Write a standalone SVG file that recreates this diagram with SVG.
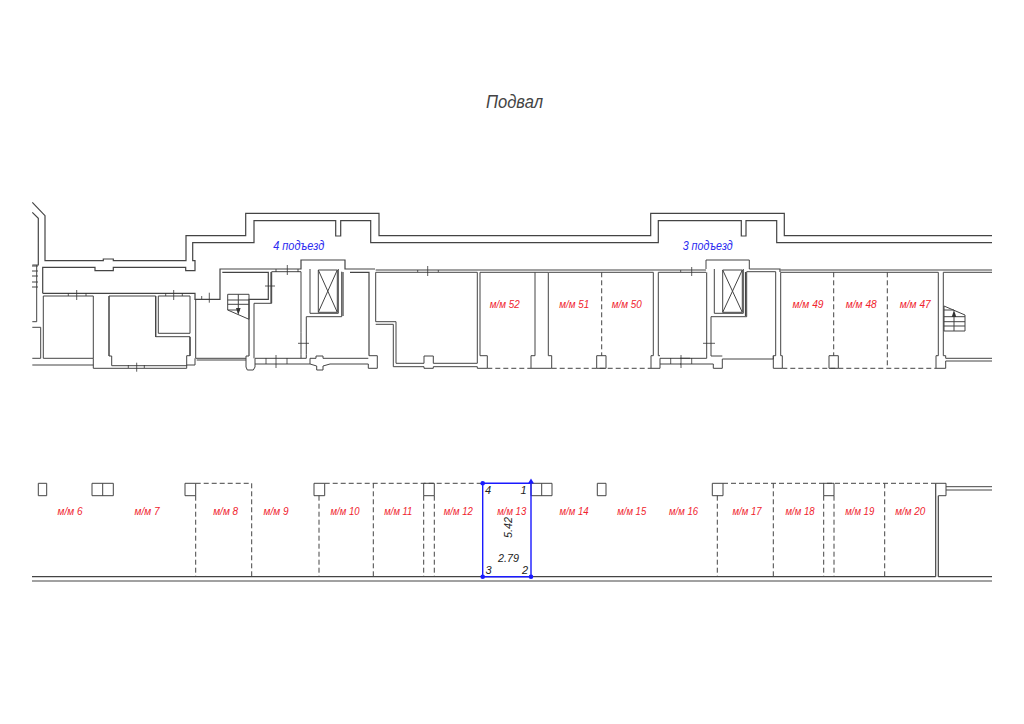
<svg xmlns="http://www.w3.org/2000/svg" width="1024" height="724" viewBox="0 0 1024 724">
<style>
.w{fill:none;stroke:#444;stroke-width:1}
.h{fill:none;stroke:#444;stroke-width:1.2}
.t{fill:none;stroke:#333;stroke-width:.8}
.d{fill:none;stroke:#444;stroke-width:1;stroke-dasharray:5 3}
.r{font:italic 11px "Liberation Sans",sans-serif;fill:#f0232d;text-anchor:middle}
.b{font:italic 12px "Liberation Sans",sans-serif;fill:#2a2af0;text-anchor:middle}
.k{font:italic 11px "Liberation Sans",sans-serif;fill:#222;text-anchor:middle}
.p{fill:none;stroke:#1a1aff;stroke-width:1.4}
.q{fill:#1a1aff}
</style>
<rect width="1024" height="724" fill="#fff"/>
<text id="title" x="514.500" y="108" font-family="Liberation Sans, sans-serif" font-size="18" font-style="italic" fill="#444" text-anchor="middle" textLength="57" lengthAdjust="spacingAndGlyphs">Подвал</text>
<g id="upper-floor">
<path class="h" d="M32.300 202.300 45 215.700V260.700H103.300V259H113.300V260.700H186V235.700H245.700V213.300H379V235.700H650.700V213.300H784.300V235.700H992"/>
<path class="h" d="M32.300 212.300 38.300 218.300V265H32.300M42.700 293.300V267.300H95V270.700H113.300V267.300H185.700V270.700H195V260.700H192.700V242.700H254V220.700H335.700V236H340.700V220.700H370.700V242.700H658.300V220.700H741.300V236H746V220.700H776.700V242.700H992"/>
<path class="w" d="M32 266H38M32 271H38M32 276H38M32 282H38M32 287H38M36.700 265V321.700H32.300M32.300 327.300H40.700V358.300H32.300M32.300 365H93.300V368.300H186.700V365H195V358.300"/>
<path class="h" d="M42.700 293.300H195V299.300H220V269H301V260H345V269H375M222.300 272.300H268.300V299.300H249V356M350 272.300H369V355.700M375.700 270H706M749.300 269H780V272"/>
<path class="w" id="room1" d="M43.300 296H93.300V358.300H43.300Z"/>
<path class="w" d="M109 296H155.700V336.700H190V355.700H186.700V365.700H111.700V356H109Z"/>
<path class="w" d="M158.300 296H190V333.300H158.300Z"/>
<path class="w" d="M93.300 358.300V365M109 356V296M195.700 299.300V358.300H246M196.700 360H246M246 356V367L247.300 370H253.300L255 367V358.300H301V354.300M254 303.300V358.300M254 303.300H271.700V271.700H301V332.300M301 354.300V332.300M306.300 354.300V316.700H341.700V271.700M301 358.300H306.300V354.300M255 364H310V358.300H316V356H323V358.300H328M310 364L316.700 366V370H323V366L330 364H350M328 358.300H350M246 356H249"/>
<path class="h" d="M271 272V303M343 272V316M155.700 296V337M190 337V356"/>
<path class="w" d="M310 269V313.300H338.300V269M318.300 270H337.300V312.300H318.300ZM318.300 270 337.300 312.300M337.300 270 318.300 312.300"/>
<path class="w" d="M369 355.700H377.300V368.300H368.300V364H350M368.300 358.300H350"/>
<path class="w" d="M375.700 272.300H477.300V363.300H433.300V356H424V363.300H396V321.700H375.700ZM375.700 324.300H393.300V366.700H424V368.300H433.300V366.700H477.300V368.300H487.300V355.700H480V272.300H535V355.700H531V368.300H551.700V355.700H548.300V272.300H653.300V355.700H651V368.300H660V358.300H690M658.300 272.300V355.700H660M660 364H681M535 272.300H548"/>
<path class="w" d="M596.700 355.700H606V368.300H596.700Z"/>
<path class="d" d="M487.300 368.300H531M551.700 368.300H651M601.700 272.300V355.700"/>
<path class="w" d="M658.300 272.300H706M680 358.300H706.700V272.300M680 364H713.300V368.300H722.300V359H773.300V355.700H775.700V271.700H746.700V316.700H711V356M711 356H722.300M706 269V260H749.300V269"/>
<path class="h" d="M780.700 270H992M745.500 272V316"/>
<path class="w" d="M714.300 269V313.300H743.300V269M722.700 270H742.300V312.300H722.700ZM722.700 270 742.300 312.300M742.300 270 722.700 312.300"/>
<path class="w" d="M773.300 355.700V368.300H782.300V355.700H780.700V272.300H938.300V355.700H936V368.300H945.700V361H992M945.700 358.300H992M945.700 358.300V355.700H943.300V272.300H992M829 355.700H838.300V368.300H829Z"/>
<path class="d" d="M782.300 368.300H936M833.700 272.300V355.700M887.300 272.300V368.300"/>
<g id="stair-left"><path class="w" d="M227.700 294.300H249V319.300L227.700 310ZM227.700 300H249M227.700 304.300H249M227.700 310H240M238.300 294.300V313"/><path d="M236 308H240.600L238.300 315Z" fill="#333"/></g>
<g id="stair-right"><path class="w" d="M944 306 965 315V331H944ZM944 316.700H965M944 321.700H965M944 326H965M944 310H954M954 331V313"/><path d="M951.700 317H956.300L954 310Z" fill="#333"/></g>
<path class="t" d="M76.700 290V300M68.300 293V296M86 293V296M173.700 290V300M165.700 293V296M182.300 293V296M209.300 292.700V302.700M201.700 296V299M287.300 265V275M276 269V272M298 269V272M265 286H275M298 343.300H309M276 355V368M266 358V364M287 358V364M136.700 362.700V371.700M128.300 365V368M144.300 365V368M427.700 266V276M417.700 270V272M438.300 270V272M680.700 270V272M681 355V368M670.700 358V364M691.700 267V276M703 343.300H715M691.700 358V364"/>
</g>
<g id="lower-floor">
<path class="h" d="M32 576.700H935.700M938.300 576.700H992M32 581H992M935.700 576.700V483.300M938.300 576.700V495.700"/>
<path class="w" d="M38.300 483.300H46.700V495.700H38.300ZM92 483.300H113.300V495.700H92ZM102.700 483.300V495.700M185 483.300H195.700V495.700H185ZM314 483.300H324.700V495.700H314ZM423.700 483.300H434.300V495.700H423.700ZM531 483.300H552V495.700H531ZM541.700 483.300V495.700M597.300 483.300H606V495.700H597.300ZM712.300 483.300H723V495.700H712.300ZM823.700 483.300H834V495.700H823.700ZM935.700 483.300H946V495.700H938.300M946 486.700H992M946 490H992"/>
<path class="d" d="M195.700 483.300H251.700V576.700M195.700 495.700V576.700M324.700 483.300H482.700M319 495.700V576.700M373.300 483.300V576.700M423.700 495.700V576.700M434.300 495.700V576.700M723 483.300H935.700M717.300 495.700V576.700M773.300 483.300V576.700M823.700 495.700V576.700M834 495.700V576.700M884.700 483.300V576.700"/>
</g>
<g id="parking-13">
<path class="p" d="M482.700 483.300H531V576.700H482.700Z"/>
<circle class="q" cx="482.700" cy="483.300" r="2.300"/><circle class="q" cx="482.700" cy="576.700" r="2.300"/><circle class="q" cx="531" cy="576.700" r="2.300"/><path class="q" d="M528 483.500 531 478.500 534 483.500Z"/>
<text class="k" x="488" y="494">4</text><text class="k" x="523.500" y="494">1</text><text class="k" x="488.500" y="573.500">3</text><text class="k" x="525" y="573.500">2</text>
<text class="k" transform="translate(511.500 527.500) rotate(-90)" x="0" y="0" textLength="21" lengthAdjust="spacingAndGlyphs">5.42</text><text class="k" x="508.500" y="561.500" textLength="21" lengthAdjust="spacingAndGlyphs">2.79</text>
</g>
<g id="labels" lengthAdjust="spacingAndGlyphs">
<text class="b" x="298.700" y="249.500" textLength="51" lengthAdjust="spacingAndGlyphs">4 подъезд</text><text class="b" x="707.700" y="249.500" textLength="50" lengthAdjust="spacingAndGlyphs">3 подъезд</text>
<text class="r" x="504.700" y="308" textLength="30" lengthAdjust="spacingAndGlyphs">м/м 52</text><text class="r" x="574.300" y="308" textLength="30" lengthAdjust="spacingAndGlyphs">м/м 51</text><text class="r" x="626.700" y="308" textLength="30" lengthAdjust="spacingAndGlyphs">м/м 50</text><text class="r" x="808" y="308" textLength="31" lengthAdjust="spacingAndGlyphs">м/м 49</text><text class="r" x="861.300" y="308" textLength="31" lengthAdjust="spacingAndGlyphs">м/м 48</text><text class="r" x="915.300" y="308" textLength="31" lengthAdjust="spacingAndGlyphs">м/м 47</text>
<text class="r" x="70" y="515" textLength="25" lengthAdjust="spacingAndGlyphs">м/м 6</text><text class="r" x="147" y="515" textLength="25" lengthAdjust="spacingAndGlyphs">м/м 7</text><text class="r" x="225.700" y="515" textLength="25" lengthAdjust="spacingAndGlyphs">м/м 8</text><text class="r" x="276" y="515" textLength="25" lengthAdjust="spacingAndGlyphs">м/м 9</text><text class="r" x="345" y="515" textLength="29" lengthAdjust="spacingAndGlyphs">м/м 10</text><text class="r" x="398.300" y="515" textLength="28" lengthAdjust="spacingAndGlyphs">м/м 11</text><text class="r" x="458.300" y="515" textLength="29" lengthAdjust="spacingAndGlyphs">м/м 12</text><text class="r" x="511.700" y="515" textLength="29" lengthAdjust="spacingAndGlyphs">м/м 13</text><text class="r" x="574" y="515" textLength="29" lengthAdjust="spacingAndGlyphs">м/м 14</text><text class="r" x="631.700" y="515" textLength="29" lengthAdjust="spacingAndGlyphs">м/м 15</text><text class="r" x="683.500" y="515" textLength="29" lengthAdjust="spacingAndGlyphs">м/м 16</text><text class="r" x="747" y="515" textLength="29" lengthAdjust="spacingAndGlyphs">м/м 17</text><text class="r" x="800" y="515" textLength="29" lengthAdjust="spacingAndGlyphs">м/м 18</text><text class="r" x="859.700" y="515" textLength="29" lengthAdjust="spacingAndGlyphs">м/м 19</text><text class="r" x="910.300" y="515" textLength="30" lengthAdjust="spacingAndGlyphs">м/м 20</text>
</g>
</svg>
